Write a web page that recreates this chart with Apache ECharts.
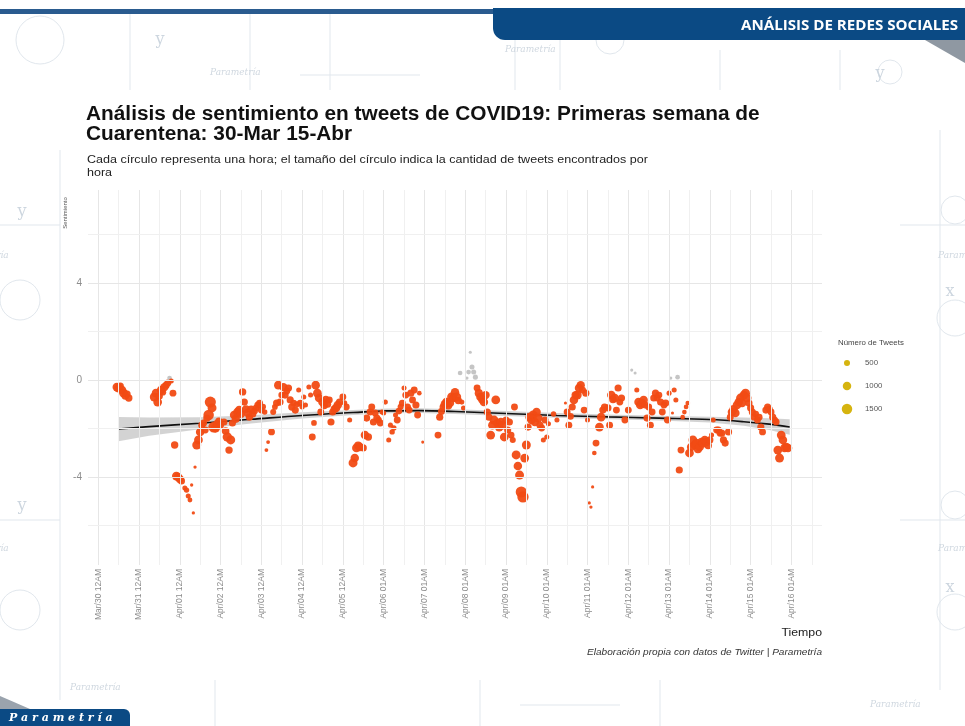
<!DOCTYPE html>
<html>
<head>
<meta charset="utf-8">
<script src="https://cdn.jsdelivr.net/npm/echarts@6/dist/echarts.min.js"></script>
<style>
  html, body { margin: 0; padding: 0; background: #ffffff; }
  #chart { width: 965px; height: 726px; }
</style>
</head>
<body>
<div id="chart"></div>
<script>
// Etiquetas del eje de tiempo (una por día)
const etiquetasTiempo = [
  'Mar/30 12AM', 'Mar/31 12AM', 'Apr/01 12AM', 'Apr/02 12AM', 'Apr/03 12AM',
  'Apr/04 12AM', 'Apr/05 12AM', 'Apr/06 01AM', 'Apr/07 01AM', 'Apr/08 01AM',
  'Apr/09 01AM', 'Apr/10 01AM', 'Apr/11 01AM', 'Apr/12 01AM', 'Apr/13 01AM',
  'Apr/14 01AM', 'Apr/15 01AM', 'Apr/16 01AM'
];
const etiquetasSentimiento = [-4, 0, 4];
const lineasSentimiento = [-6, -4, -2, 0, 2, 4, 6];

// Cada fila: [horas desde el 30-Mar 00:00, sentimiento promedio, número de tweets]
const marzo30 = [
  [11, -0.29, 1050], [12, -0.33, 1100], [13, -0.25, 700], [14, -0.41, 1000],
  [15, -0.54, 1100], [16, -0.66, 800], [17, -0.58, 700], [18, -0.74, 750]
];
const marzo31 = [
  [33, -0.70, 1100], [34, -0.54, 1000], [35, -0.91, 1050], [36, -0.66, 700],
  [37, -0.41, 1000], [38, -0.50, 650], [39, -0.29, 950], [40, -0.21, 700],
  [41, -0.12, 650], [42, 0.08, 300], [43, -0.04, 350], [44, -0.54, 650],
  [45, -2.68, 750], [46, -3.96, 1050], [47, -4.00, 1000], [48, -4.08, 950],
  [49, -4.16, 700], [51, -4.45, 350], [52, -4.54, 400], [53, -4.78, 350],
  [54, -4.95, 320], [55, -4.33, 150], [56, -5.48, 150], [57, -3.59, 150]
];
const abril01 = [
  [58, -2.68, 1100], [59, -2.47, 1050], [60, -2.14, 1000], [61, -1.86, 700],
  [62, -1.77, 700], [63, -2.06, 650], [64, -1.57, 750], [65, -1.44, 1500],
  [66, -0.91, 1700], [67, -1.15, 1100], [68, -1.94, 1600], [69, -1.98, 1200],
  [70, -1.80, 800], [71, -1.69, 700], [72, -1.86, 650], [74, -1.73, 700],
  [75, -2.10, 800], [76, -2.35, 1200], [77, -2.89, 750], [78, -2.47, 1100],
  [79, -1.77, 700], [80, -1.44, 1000], [81, -1.60, 900], [82, -1.32, 1050],
  [83, -1.24, 1000], [84, -1.40, 900], [85, -0.49, 750], [86, -0.91, 700],
  [87, -1.20, 800], [88, -1.36, 1000], [89, -1.53, 700], [90, -1.20, 750],
  [91, -1.40, 700], [92, -1.28, 650], [93, -1.15, 600], [94, -1.03, 700],
  [95, -0.95, 650], [96, -1.24, 650], [97, -1.10, 500]
];
const abril02 = [
  [98, -1.32, 400], [99, -2.89, 200], [100, -2.56, 200], [102, -2.14, 650],
  [103, -1.32, 500], [104, -1.11, 450], [105, -0.95, 700], [106, -0.21, 1000],
  [107, -0.91, 700], [108, -0.62, 600], [109, -0.29, 950], [110, -0.62, 700],
  [111, -0.45, 650], [112, -0.33, 700], [113, -0.82, 700], [114, -1.11, 750],
  [115, -0.95, 600], [116, -1.24, 700], [117, -1.00, 500], [118, -0.41, 350],
  [119, -0.95, 650], [120, -1.10, 400]
];
const abril03 = [
  [121, -0.70, 350], [122, -1.03, 350], [124, -0.29, 350], [125, -0.62, 350],
  [126, -2.35, 650], [127, -1.77, 450], [128, -0.21, 1000], [129, -0.54, 1050],
  [130, -0.74, 1000], [131, -1.32, 650], [132, -0.91, 1000], [133, -1.05, 800],
  [134, -0.82, 950], [135, -1.00, 700], [136, -0.82, 650], [137, -1.73, 700],
  [138, -1.32, 700], [139, -1.20, 800], [140, -1.15, 1000], [141, -1.03, 1000],
  [142, -0.91, 700], [144, -0.70, 650], [145, -0.95, 400], [146, -1.11, 650],
  [148, -1.65, 350]
];
const abril04 = [
  [150, -3.42, 1100], [151, -3.22, 1000], [152, -2.80, 1050], [153, -2.70, 900],
  [154, -2.76, 1000], [156, -2.80, 700], [157, -2.27, 1000], [158, -1.57, 700],
  [159, -2.35, 750], [160, -1.32, 650], [161, -1.11, 650], [162, -1.73, 700],
  [163, -1.36, 650], [164, -1.57, 700], [165, -1.65, 600], [166, -1.77, 650],
  [167, -1.32, 350], [168, -1.36, 350], [169, -0.91, 350], [171, -2.47, 350],
  [172, -1.86, 350], [173, -2.14, 400], [174, -1.98, 400], [175, -1.44, 350],
  [176, -1.65, 650], [177, -1.28, 600], [178, -1.10, 500], [179, -0.95, 650],
  [180, -0.33, 350], [181, -0.62, 650], [182, -1.11, 700], [183, -1.24, 650],
  [184, -0.54, 700], [185, -0.82, 650], [186, -0.41, 650], [187, -1.03, 700],
  [188, -1.44, 650], [189, -0.54, 300], [191, -2.56, 130]
];
const abril07 = [
  [200, -2.27, 650], [201, -1.53, 700], [202, -1.30, 650], [203, -1.11, 700],
  [204, -1.00, 1000], [205, -0.91, 1100], [206, -1.05, 900], [207, -0.95, 1000],
  [208, -0.70, 1100], [209, -0.74, 1050], [210, -0.50, 1000], [211, -0.70, 1100],
  [212, -0.85, 700], [213, 0.29, 300], [214, -0.91, 350], [215, -1.15, 350],
  [217, 0.08, 150], [218, 0.33, 300], [219, 1.15, 130], [220, 0.54, 350],
  [221, 0.33, 350], [222, 0.12, 350], [223, -0.33, 650], [224, -0.54, 900],
  [225, -0.70, 1000], [226, -0.80, 900], [227, -0.91, 1000], [228, -0.62, 950],
  [229, -1.32, 700], [230, -1.53, 700], [231, -2.27, 1050], [232, -1.86, 1000],
  [233, -1.65, 1100], [234, -0.82, 1050], [235, -1.77, 1000], [236, -1.94, 1050],
  [237, -1.73, 1000], [238, -1.86, 1100], [239, -2.35, 1050], [240, -1.65, 700],
  [241, -2.06, 700], [242, -1.73, 700], [243, -2.27, 650], [244, -2.47, 500],
  [245, -1.11, 650]
];
const abril09 = [
  [246, -3.09, 1100], [247, -3.55, 1000], [248, -3.92, 1100], [249, -4.62, 1700],
  [250, -4.82, 1750], [251, -3.22, 1050], [252, -2.68, 1100], [253, -1.94, 700],
  [254, -1.53, 1050], [255, -1.65, 1000], [256, -1.44, 1100], [257, -1.73, 1000],
  [258, -1.32, 1000], [259, -1.57, 1050], [260, -1.86, 700], [261, -1.98, 650],
  [262, -2.47, 350], [263, -1.65, 650], [264, -2.35, 350], [265, -1.80, 350],
  [268, -1.40, 400], [270, -1.65, 350], [275, -0.95, 130], [276, -1.32, 650],
  [277, -1.86, 650], [278, -1.50, 600], [279, -1.11, 700], [280, -0.82, 1000],
  [281, -0.62, 950], [282, -0.62, 1050], [283, -0.33, 1000], [284, -0.21, 950],
  [285, -0.41, 700], [286, -1.24, 650], [287, -0.54, 700], [288, -1.65, 350]
];
const abril11 = [
  [289, -5.07, 150], [290, -5.24, 150], [291, -4.41, 140], [292, -3.01, 300],
  [293, -2.60, 650], [295, -1.94, 1050], [296, -1.53, 1000], [297, -1.24, 700],
  [298, -1.11, 700], [300, -1.15, 700], [301, -1.86, 650], [302, -0.62, 1000],
  [303, -0.80, 800], [304, -0.74, 1000], [305, -1.24, 650], [306, -0.33, 700],
  [307, -0.91, 650], [308, -0.74, 700], [310, -1.65, 650], [312, -1.24, 650],
  [314, 0.41, 130], [316, 0.29, 130], [317, -0.41, 350], [318, -0.91, 1000],
  [319, -1.03, 1000], [320, -0.95, 1050], [321, -0.82, 1000], [322, -1.03, 700],
  [323, -1.57, 700], [324, -1.11, 650], [325, -1.86, 650], [326, -1.32, 650],
  [327, -0.74, 700], [328, -0.54, 700], [329, -0.74, 650], [330, -0.62, 650],
  [331, -0.91, 700], [332, -1.32, 650], [333, -1.03, 650], [334, -0.95, 700],
  [335, -1.65, 650], [336, -0.54, 350], [337, 0.08, 130], [338, -1.36, 130],
  [339, -0.41, 350], [340, -0.82, 350], [341, 0.12, 300]
];
const abril13 = [
  [342, -3.71, 700], [343, -2.89, 650], [344, -1.53, 300], [345, -1.32, 300],
  [346, -1.11, 300], [347, -0.95, 300], [348, -3.01, 1050], [349, -2.76, 1000],
  [350, -2.47, 1050], [351, -2.68, 1000], [352, -2.60, 1050], [353, -2.85, 900],
  [354, -2.76, 1000], [355, -2.56, 1000], [356, -2.60, 1050], [357, -2.47, 1000],
  [358, -2.56, 1000], [359, -2.70, 800], [360, -2.47, 700], [361, -2.27, 350],
  [362, -1.65, 350], [364, -2.06, 650], [365, -2.06, 700], [366, -2.19, 650],
  [367, -2.19, 700], [368, -2.47, 700], [369, -2.60, 700], [371, -2.14, 700],
  [372, -1.53, 650], [373, -1.32, 1000], [374, -1.20, 900], [375, -1.36, 1000],
  [376, -1.03, 1050], [377, -0.91, 1000], [378, -0.74, 1050], [379, -0.95, 1000],
  [380, -0.62, 1050], [381, -0.54, 1100], [382, -0.74, 1000], [383, -0.95, 700],
  [384, -1.15, 700], [385, -1.32, 700], [386, -1.53, 650], [387, -1.40, 600],
  [388, -1.65, 650], [389, -1.53, 650], [390, -1.94, 700], [391, -2.14, 650],
  [393, -1.24, 700], [394, -1.11, 700], [395, -1.20, 650], [396, -1.32, 650],
  [397, -1.53, 700], [398, -1.65, 700], [399, -1.73, 650], [400, -2.89, 1050],
  [401, -3.22, 1100], [402, -2.27, 1050], [403, -2.47, 1000], [404, -2.80, 1050],
  [405, -2.76, 1000], [406, -2.80, 1000]
];

// Curva suavizada (loess) y su intervalo de confianza
const tendenciaHora  = [12, 30, 60, 90, 120, 150, 170, 190, 210, 240, 270, 300, 330, 360, 380, 395, 407];
const tendenciaValor = [-2.02, -1.92, -1.78, -1.62, -1.46, -1.34, -1.27, -1.26, -1.30, -1.38, -1.46, -1.52, -1.57, -1.63, -1.72, -1.82, -1.94];
const tendenciaError = [0.50, 0.38, 0.25, 0.17, 0.13, 0.10, 0.10, 0.10, 0.10, 0.10, 0.10, 0.10, 0.10, 0.12, 0.17, 0.24, 0.32];

// Leyenda de tamaños
const leyendaTweets = [500, 1000, 1500];

const FUENTE = '"Liberation Sans", Arial, sans-serif';
const NARANJA = '#f14b14';
const GRIS = '#c2c2c2';
const DORADO = '#d6b40f';
const AZUL = '#0b4a84';
const ANCHO = 1.12; // ensanchado horizontal de los textos de la lámina

const tamano = n => 0.27 * Math.sqrt(n);
const puntos = [].concat(marzo30, marzo31, abril01, abril02, abril03, abril04,
                         abril07, abril09, abril11, abril13);
const horasEtiqueta = etiquetasTiempo.map((_, i) => i * 24);
const horasRejilla = [];
for (let h = 0; h <= 420; h += 12) horasRejilla.push(h);
const banda = tendenciaHora.map((h, i) => [h, tendenciaValor[i] - tendenciaError[i], tendenciaValor[i] + tendenciaError[i]]);
const tendencia = tendenciaHora.map((h, i) => [h, tendenciaValor[i]]);

// Decoración de fondo: trazos tenues de la plantilla
const TENUE = '#e1e7ed';
const decoracion = [];
[[40, 40, 24], [20, 300, 20], [20, 610, 20], [955, 210, 14], [955, 318, 18], [955, 505, 14], [955, 612, 18], [890, 72, 12], [610, 40, 14], [1040, 60, 30]]
  .forEach(c => decoracion.push({ type: 'circle', z: -10, silent: true, shape: { cx: c[0], cy: c[1], r: c[2] },
    style: { fill: 'none', stroke: TENUE, lineWidth: 1 } }));
[[130, 14, 90], [250, 14, 90], [330, 14, 90], [515, 14, 90], [560, 14, 90], [720, 50, 90], [840, 50, 90], [940, 130, 690], [60, 150, 700], [215, 680, 726], [480, 680, 726], [660, 680, 726]]
  .forEach(l => decoracion.push({ type: 'line', z: -10, silent: true, shape: { x1: l[0], y1: l[1], x2: l[0], y2: l[2] },
    style: { stroke: TENUE, lineWidth: 1 } }));
[[0, 225, 60, 225], [0, 520, 60, 520], [300, 75, 420, 75], [900, 225, 965, 225], [900, 520, 965, 520], [520, 705, 620, 705]]
  .forEach(l => decoracion.push({ type: 'line', z: -10, silent: true, shape: { x1: l[0], y1: l[1], x2: l[2], y2: l[3] },
    style: { stroke: TENUE, lineWidth: 1 } }));
[[22, 212, 'y'], [22, 506, 'y'], [880, 74, 'y'], [160, 40, 'y'], [950, 292, 'x'], [950, 588, 'x']]
  .forEach(t => decoracion.push({ type: 'text', z: -10, silent: true, x: t[0], y: t[1],
    style: { text: t[2], fill: '#cdd6df', font: '16px "DejaVu Serif"', align: 'center', verticalAlign: 'middle' } }));
[[-42, 256], [-42, 549], [938, 256], [938, 549], [210, 73], [505, 50], [70, 688], [870, 705]]
  .forEach(t => decoracion.push({ type: 'text', z: -10, silent: true, x: t[0], y: t[1],
    style: { text: 'Parametría', fill: '#d0d8e0', font: 'italic 9px "DejaVu Serif"', verticalAlign: 'middle' } }));

// Texto con el ensanchado horizontal de la lámina
const texto = (x, y, contenido, fuente, color, escala, alinear) => ({
  type: 'text', silent: true, x: x, y: y, scaleX: escala || ANCHO,
  style: { text: contenido, fill: color, font: fuente, verticalAlign: 'middle', align: alinear || 'left' }
});

const elementos = decoracion.concat([
  // franja superior y cintilla de sección
  { type: 'rect', silent: true, shape: { x: 0, y: 9, width: 500, height: 5 }, style: { fill: '#2a5b8f' } },
  { type: 'polygon', silent: true, shape: { points: [[925, 40], [965, 40], [965, 63]] }, style: { fill: '#8f98a2' } },
  { type: 'rect', silent: true, shape: { x: 493, y: 8, width: 472, height: 32, r: [0, 0, 0, 12] }, style: { fill: AZUL } },
  texto(958, 26, 'ANÁLISIS DE REDES SOCIALES', 'bold 13.5px "Open Sans", sans-serif', '#ffffff', 1.12, 'right'),
  // pie de página
  { type: 'polygon', silent: true, shape: { points: [[0, 696], [30, 709], [0, 709]] }, style: { fill: '#9aa3ad' } },
  { type: 'rect', silent: true, shape: { x: 0, y: 709, width: 130, height: 17, r: [0, 6, 0, 0] }, style: { fill: AZUL } },
  { type: 'text', silent: true, x: 9, y: 718, style: { text: 'P a r a m e t r í a', fill: '#ffffff',
      font: 'italic bold 11px "DejaVu Serif", serif', verticalAlign: 'middle' } },
  // título y subtítulo
  texto(86, 115, 'Análisis de sentimiento en tweets de COVID19: Primeras semana de', 'bold 19.5px ' + FUENTE, '#111111', 1.068),
  texto(86, 135, 'Cuarentena: 30-Mar 15-Abr', 'bold 19.5px ' + FUENTE, '#111111', 1.068),
  texto(87, 160, 'Cada círculo representa una hora; el tamaño del círculo indica la cantidad de tweets encontrados por', '11.5px ' + FUENTE, '#222222', 1.09),
  texto(87, 173, 'hora', '11.5px ' + FUENTE, '#222222', 1.09),
  // títulos de ejes y nota
  { type: 'text', silent: true, x: 65, y: 213, rotation: Math.PI / 2, style: { text: 'Sentimiento', fill: '#555',
      font: '6px ' + FUENTE, align: 'center', verticalAlign: 'middle' } },
  texto(822, 633, 'Tiempo', '11px ' + FUENTE, '#222222', ANCHO, 'right'),
  texto(822, 652, 'Elaboración propia con datos de Twitter | Parametría', 'italic 9px ' + FUENTE, '#333333', ANCHO, 'right'),
  // leyenda de tamaños
  texto(838, 343, 'Número de Tweets', '7px ' + FUENTE, '#444444')
]);
leyendaTweets.forEach((n, i) => {
  const y = 363 + i * 23;
  elementos.push({ type: 'circle', silent: true, shape: { cx: 847, cy: y, r: tamano(n) / 2 }, style: { fill: DORADO } });
  elementos.push(texto(865, y, String(n), '7px ' + FUENTE, '#555555'));
});

const chart = echarts.init(document.getElementById('chart'), null, { renderer: 'canvas' });
chart.setOption({
  animation: false,
  backgroundColor: '#ffffff',
  textStyle: { fontFamily: FUENTE },
  grid: { left: 88, right: 143, top: 190, bottom: 161 },
  xAxis: {
    type: 'value', min: -6, max: 426,
    axisLine: { show: false }, axisTick: { show: false }, splitLine: { show: false },
    axisLabel: {
      customValues: horasEtiqueta,
      formatter: v => etiquetasTiempo[Math.round(v / 24)] || '',
      rotate: 90, fontSize: 8.5, color: '#8c8c8c', margin: 4
    }
  },
  yAxis: {
    type: 'value', min: -7.63, max: 7.84,
    axisLine: { show: false }, axisTick: { show: false }, splitLine: { show: false },
    axisLabel: { customValues: etiquetasSentimiento, fontSize: 10, color: '#8c8c8c', margin: 6 }
  },
  series: [
    {
      type: 'scatter', data: [], silent: true, z: 0,
      markLine: {
        silent: true, symbol: ['none', 'none'], label: { show: false }, animation: false,
        emphasis: { disabled: true },
        data: horasRejilla.map(h => ({ xAxis: h, lineStyle: { color: h % 24 === 0 ? '#e6e6e6' : '#f0f0f0', width: 1, type: 'solid' } }))
          .concat(lineasSentimiento.map(v => ({ yAxis: v, lineStyle: { color: v % 4 === 0 ? '#e6e6e6' : '#f0f0f0', width: 1, type: 'solid' } })))
      }
    },
    {
      type: 'custom', silent: true, z: 1, data: banda,
      encode: { x: 0, y: [1, 2] },
      renderItem: (params, api) => {
        if (params.dataIndex !== 0) return null;
        const arriba = banda.map(r => api.coord([r[0], r[2]]));
        const abajo = banda.map(r => api.coord([r[0], r[1]])).reverse();
        return { type: 'polygon', shape: { points: arriba.concat(abajo) }, style: { fill: 'rgba(150,150,150,0.42)' } };
      }
    },
    {
      type: 'line', data: tendencia, smooth: 0.4, symbol: 'none', silent: true, z: 3,
      lineStyle: { color: '#111111', width: 1.6 }
    },
    {
      type: 'scatter', data: puntos, z: 4,
      symbolSize: d => tamano(d[2]),
      itemStyle: { color: p => (p.value[1] >= 0 ? GRIS : NARANJA), opacity: 0.95 }
    }
  ],
  graphic: { elements: elementos }
});
</script>
</body>
</html>
